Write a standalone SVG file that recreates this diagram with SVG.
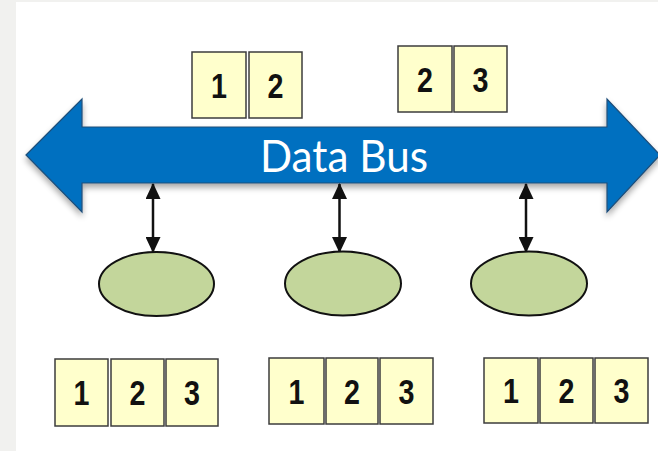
<svg xmlns="http://www.w3.org/2000/svg" width="658" height="451" viewBox="0 0 658 451">
  <style>
    .cell { fill: #FFFFCC; stroke: #3c3c3c; stroke-width: 1.5; }
    .digit { font-family: "Liberation Sans", Arial, sans-serif; font-weight: bold; font-size: 35px; fill: #111; text-anchor: middle; }
    .node { fill: #C3D69B; stroke: #111; stroke-width: 2; }
    .link { stroke: #111; stroke-width: 2.5; fill: none; marker-start: url(#head); marker-end: url(#head); }
    .busText { font-family: Lato, "Open Sans", sans-serif; font-size: 44px; fill: #ffffff; text-anchor: middle; }
  </style>
  <defs>
    <marker id="head" viewBox="0 0 16 15" refX="15" refY="7.5" markerWidth="16" markerHeight="15" markerUnits="userSpaceOnUse" orient="auto-start-reverse">
      <path d="M0,0 L16,7.5 L0,15 Z" fill="#111"/>
    </marker>
    <filter id="shadow" x="-5%" y="-10%" width="110%" height="130%">
      <feGaussianBlur in="SourceAlpha" stdDeviation="3"/>
      <feOffset dx="0" dy="4" result="b"/>
      <feComponentTransfer><feFuncA type="linear" slope="0.35"/></feComponentTransfer>
      <feMerge><feMergeNode/><feMergeNode in="SourceGraphic"/></feMerge>
    </filter>
  </defs>

  <!-- page background -->
  <rect x="0" y="0" width="658" height="451" fill="#ffffff"/>
  <rect x="0" y="0" width="16" height="451" fill="#f1f1ef"/>
  <rect x="0" y="0" width="658" height="2" fill="#f1f1ef"/>

  <!-- data bus: double-headed block arrow -->
  <g id="bus">
    <path d="M26,155 L82,99 L82,127 L607,127 L607,99 L660,155 L607,212 L607,183 L82,183 L82,212 Z"
          fill="#0070C0" stroke="#1f4e79" stroke-width="1.2" stroke-linejoin="miter" filter="url(#shadow)"/>
    <text class="busText" x="344" y="172" textLength="168" lengthAdjust="spacingAndGlyphs">Data Bus</text>
  </g>

  <!-- packets above the bus -->
  <g id="packet-12">
    <rect class="cell" x="192" y="52" width="54" height="66"/>
    <rect class="cell" x="249" y="52" width="53" height="66"/>
    <text class="digit" transform="translate(219 97.5) scale(0.82 1)">1</text>
    <text class="digit" transform="translate(275.5 97.5) scale(0.82 1)">2</text>
  </g>
  <g id="packet-23">
    <rect class="cell" x="398" y="46" width="54" height="66"/>
    <rect class="cell" x="454" y="46" width="53" height="66"/>
    <text class="digit" transform="translate(425 91.5) scale(0.82 1)">2</text>
    <text class="digit" transform="translate(480.5 91.5) scale(0.82 1)">3</text>
  </g>

  <!-- connectors between bus and nodes -->
  <g id="connectors">
    <line class="link" x1="153" y1="184" x2="153" y2="252"/>
    <line class="link" x1="339.5" y1="184" x2="339.5" y2="252"/>
    <line class="link" x1="526" y1="184" x2="526" y2="252"/>
  </g>

  <!-- nodes -->
  <g id="node-1"><ellipse class="node" cx="156.5" cy="284" rx="57.5" ry="32"/></g>
  <g id="node-2"><ellipse class="node" cx="343" cy="283.5" rx="58" ry="32"/></g>
  <g id="node-3"><ellipse class="node" cx="529" cy="283.5" rx="58" ry="32"/></g>

  <!-- buffers below the nodes -->
  <g id="buffer-1">
    <rect class="cell" x="55" y="359" width="53" height="67"/>
    <rect class="cell" x="111" y="359" width="53" height="67"/>
    <rect class="cell" x="166" y="359" width="52" height="67"/>
    <text class="digit" transform="translate(81.5 405) scale(0.82 1)">1</text>
    <text class="digit" transform="translate(137.5 405) scale(0.82 1)">2</text>
    <text class="digit" transform="translate(192 405) scale(0.82 1)">3</text>
  </g>
  <g id="buffer-2">
    <rect class="cell" x="269" y="358" width="55" height="66"/>
    <rect class="cell" x="326" y="358" width="52" height="66"/>
    <rect class="cell" x="380" y="358" width="53" height="66"/>
    <text class="digit" transform="translate(296.5 404) scale(0.82 1)">1</text>
    <text class="digit" transform="translate(352 404) scale(0.82 1)">2</text>
    <text class="digit" transform="translate(406.5 404) scale(0.82 1)">3</text>
  </g>
  <g id="buffer-3">
    <rect class="cell" x="484" y="358" width="54" height="65"/>
    <rect class="cell" x="540" y="358" width="53" height="65"/>
    <rect class="cell" x="595" y="358" width="53" height="65"/>
    <text class="digit" transform="translate(511 403) scale(0.82 1)">1</text>
    <text class="digit" transform="translate(566.5 403) scale(0.82 1)">2</text>
    <text class="digit" transform="translate(621.5 403) scale(0.82 1)">3</text>
  </g>
</svg>
